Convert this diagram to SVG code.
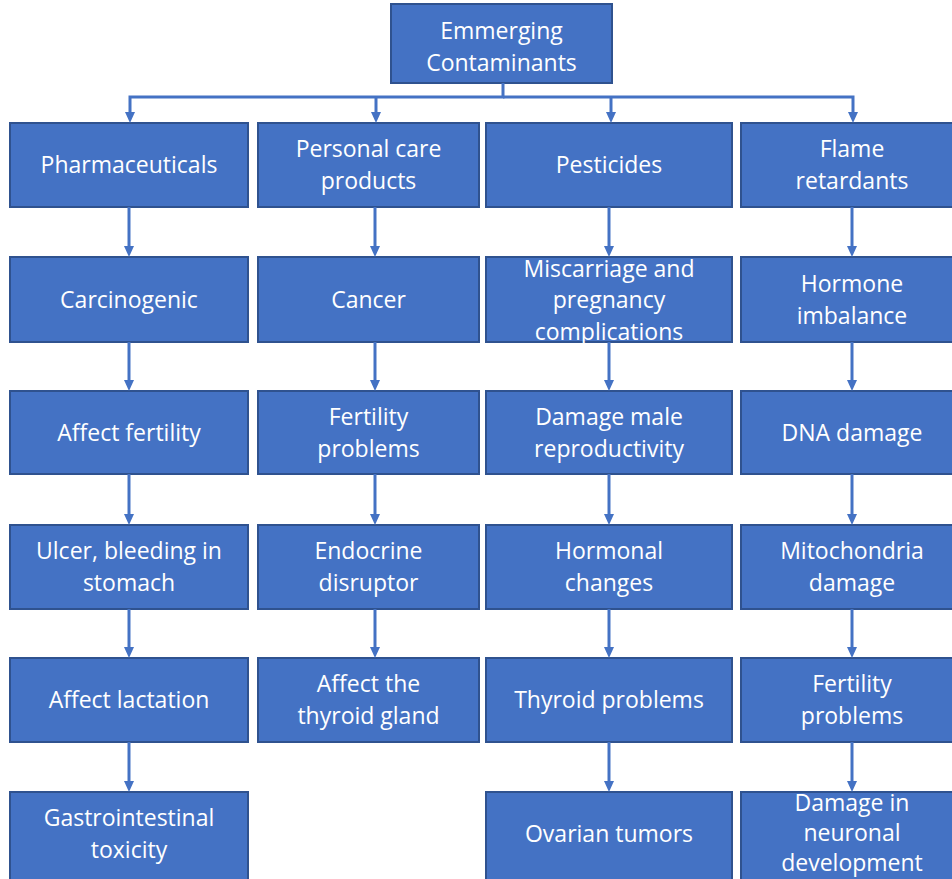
<svg xmlns="http://www.w3.org/2000/svg" width="952" height="879" viewBox="0 0 952 879">
<style>
.box{fill:#4472C4;stroke:#2F528F;stroke-width:2}
.t{font-family:"Open Sans","Noto Sans",sans-serif;font-size:23px;fill:#ffffff;text-anchor:middle}
.c{fill:none;stroke:#4472C4;stroke-width:3;marker-end:url(#ah)}
</style>
<defs>
<marker id="ah" markerUnits="userSpaceOnUse" markerWidth="12" markerHeight="12" refX="3" refY="5" orient="auto">
<path d="M0,0 L11,5 L0,10 z" fill="#4472C4"/>
</marker>
</defs>
<rect width="952" height="879" fill="#ffffff"/>

<g id="n-root"><rect class="box" x="391" y="4" width="221" height="79"/><text class="t" x="501.5" y="39">Emmerging</text><text class="t" x="501.5" y="71">Contaminants</text></g>

<g id="n-pharma"><rect class="box" x="10" y="123" width="238" height="84"/><text class="t" x="129" y="173">Pharmaceuticals</text></g>
<g id="n-personal"><rect class="box" x="258" y="123" width="221" height="84"/><text class="t" x="368.5" y="157">Personal care</text><text class="t" x="368.5" y="189">products</text></g>
<g id="n-pesticides"><rect class="box" x="486" y="123" width="246" height="84"/><text class="t" x="609" y="173">Pesticides</text></g>
<g id="n-flame"><rect class="box" x="741" y="123" width="222" height="84"/><text class="t" x="852" y="157">Flame</text><text class="t" x="852" y="189">retardants</text></g>

<g id="n-carcinogenic"><rect class="box" x="10" y="257" width="238" height="85"/><text class="t" x="129" y="308">Carcinogenic</text></g>
<g id="n-cancer"><rect class="box" x="258" y="257" width="221" height="85"/><text class="t" x="368.5" y="308">Cancer</text></g>
<g id="n-miscarriage"><rect class="box" x="486" y="257" width="246" height="85"/><text class="t" x="609" y="277">Miscarriage and</text><text class="t" x="609" y="308">pregnancy</text><text class="t" x="609" y="340">complications</text></g>
<g id="n-hormone"><rect class="box" x="741" y="257" width="222" height="85"/><text class="t" x="852" y="292">Hormone</text><text class="t" x="852" y="324">imbalance</text></g>

<g id="n-affect-fertility"><rect class="box" x="10" y="391" width="238" height="83"/><text class="t" x="129" y="441">Affect fertility</text></g>
<g id="n-fertility-2"><rect class="box" x="258" y="391" width="221" height="83"/><text class="t" x="368.5" y="425">Fertility</text><text class="t" x="368.5" y="457">problems</text></g>
<g id="n-damage-male"><rect class="box" x="486" y="391" width="246" height="83"/><text class="t" x="609" y="425">Damage male</text><text class="t" x="609" y="457">reproductivity</text></g>
<g id="n-dna"><rect class="box" x="741" y="391" width="222" height="83"/><text class="t" x="852" y="441">DNA damage</text></g>

<g id="n-ulcer"><rect class="box" x="10" y="525" width="238" height="84"/><text class="t" x="129" y="559">Ulcer, bleeding in</text><text class="t" x="129" y="591">stomach</text></g>
<g id="n-endocrine"><rect class="box" x="258" y="525" width="221" height="84"/><text class="t" x="368.5" y="559">Endocrine</text><text class="t" x="368.5" y="591">disruptor</text></g>
<g id="n-hormonal"><rect class="box" x="486" y="525" width="246" height="84"/><text class="t" x="609" y="559">Hormonal</text><text class="t" x="609" y="591">changes</text></g>
<g id="n-mito"><rect class="box" x="741" y="525" width="222" height="84"/><text class="t" x="852" y="559">Mitochondria</text><text class="t" x="852" y="591">damage</text></g>

<g id="n-lactation"><rect class="box" x="10" y="658" width="238" height="84"/><text class="t" x="129" y="708">Affect lactation</text></g>
<g id="n-thyroid-gland"><rect class="box" x="258" y="658" width="221" height="84"/><text class="t" x="368.5" y="692">Affect the</text><text class="t" x="368.5" y="724">thyroid gland</text></g>
<g id="n-thyroid"><rect class="box" x="486" y="658" width="246" height="84"/><text class="t" x="609" y="708">Thyroid problems</text></g>
<g id="n-fertility-4"><rect class="box" x="741" y="658" width="222" height="84"/><text class="t" x="852" y="692">Fertility</text><text class="t" x="852" y="724">problems</text></g>

<g id="n-gi"><rect class="box" x="10" y="792" width="238" height="100"/><text class="t" x="129" y="826">Gastrointestinal</text><text class="t" x="129" y="858">toxicity</text></g>
<g id="n-ovarian"><rect class="box" x="486" y="792" width="246" height="100"/><text class="t" x="609" y="842">Ovarian tumors</text></g>
<g id="n-neuronal"><rect class="box" x="741" y="792" width="222" height="100"/><text class="t" x="852" y="811">Damage in</text><text class="t" x="852" y="841">neuronal</text><text class="t" x="852" y="871">development</text></g>

<g id="connectors">
<path class="c" d="M503,83 V97 H130 V115"/>
<path class="c" d="M503,97 H853 V115"/>
<path class="c" d="M376,97 V115"/>
<path class="c" d="M611,97 V115"/>

<path class="c" d="M129,207 V249"/>
<path class="c" d="M129,342 V383"/>
<path class="c" d="M129,474 V517"/>
<path class="c" d="M129,609 V650"/>
<path class="c" d="M129,742 V784"/>

<path class="c" d="M375,207 V249"/>
<path class="c" d="M375,342 V383"/>
<path class="c" d="M375,474 V517"/>
<path class="c" d="M375,609 V650"/>

<path class="c" d="M609,207 V249"/>
<path class="c" d="M609,342 V383"/>
<path class="c" d="M609,474 V517"/>
<path class="c" d="M609,609 V650"/>
<path class="c" d="M609,742 V784"/>

<path class="c" d="M852,207 V249"/>
<path class="c" d="M852,342 V383"/>
<path class="c" d="M852,474 V517"/>
<path class="c" d="M852,609 V650"/>
<path class="c" d="M852,742 V784"/>
</g>
</svg>
